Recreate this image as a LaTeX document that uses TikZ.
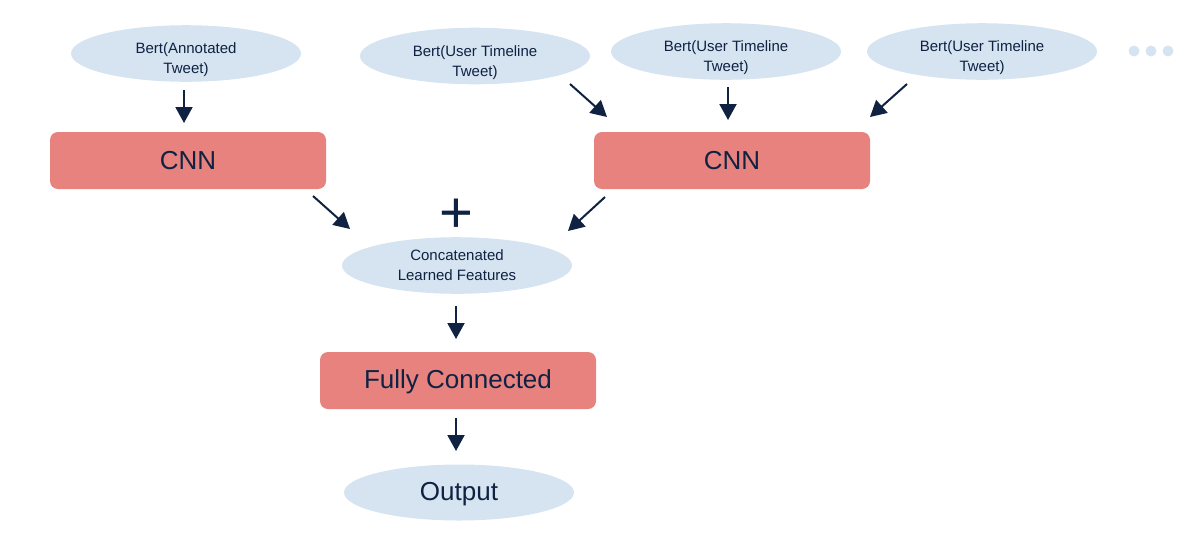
\documentclass[tikz,border=0pt]{standalone}
\usepackage{fontspec}
\setmainfont{Liberation Sans}
\usetikzlibrary{arrows.meta,calc,shapes.geometric}
\definecolor{ellfill}{HTML}{D5E4F0}
\definecolor{boxfill}{HTML}{E8827F}
\definecolor{ink}{HTML}{0F2242}
\newcommand\lowtxt[2]{\raisebox{-#1}[\height][\depth]{\begin{tabular}{@{}c@{}}#2\end{tabular}}}
\begin{document}
\begin{tikzpicture}[x=1pt,y=-1pt,
  ell/.style={ellipse, fill=ellfill, minimum width=230pt, minimum height=56pt, inner sep=0pt, align=center, text=ink, font=\fontsize{15}{20}\selectfont},
  bigell/.style={ell, font=\fontsize{26}{30}\selectfont},
  blk/.style={rectangle, rounded corners=8pt, fill=boxfill, minimum width=276pt, minimum height=57pt, inner sep=0pt, text=ink, font=\fontsize{26}{30}\selectfont},
  arr/.style={draw=ink, line width=2pt, -{Triangle[width=17pt,length=16pt]}},
  dot/.style={circle, fill=ellfill, minimum size=11pt, inner sep=0pt}
]
\useasboundingbox (0,0) rectangle (1190,542);
% inputs
\node[ell] (b1) at (186,53.5) {\lowtxt{6pt}{Bert(Annotated\\Tweet)}};
\node[ell] (b2) at (475,56) {\lowtxt{6pt}{Bert(User Timeline\\Tweet)}};
\node[ell] (b3) at (726,51.5) {\lowtxt{6pt}{Bert(User Timeline\\Tweet)}};
\node[ell] (b4) at (982,51.5) {\lowtxt{6pt}{Bert(User Timeline\\Tweet)}};
\node[dot] (d1) at (1134,51) {};
\node[dot] (d2) at (1151,51) {};
\node[dot] (d3) at (1168,51) {};
% CNNs
\node[blk] (cnn1) at (188,160.5) {\lowtxt{2.5pt}{CNN}};
\node[blk] (cnn2) at (732,160.5) {\lowtxt{2.5pt}{CNN}};
% plus
\node[font=\fontsize{58}{58}\selectfont, text=ink, inner sep=0pt] (plus) at (456,216) {+};
% concat
\node[ell] (cat) at (457,265.5) {\lowtxt{1pt}{Concatenated\\Learned Features}};
\node[blk] (fc) at (458,380.5) {\lowtxt{1.5pt}{Fully Connected}};
\node[bigell] (out) at (459,492.5) {\lowtxt{2pt}{Output}};
% arrow endpoints
\coordinate (a1s) at (184,90);  \coordinate (a1e) at (184,123);
\coordinate (a2s) at (570,84);  \coordinate (a2e) at (607,117);
\coordinate (a3s) at (728,87);  \coordinate (a3e) at (728,120);
\coordinate (a4s) at (907,84);  \coordinate (a4e) at (870,117);
\coordinate (a5s) at (313,196); \coordinate (a5e) at (350,229);
\coordinate (a6s) at (605,197); \coordinate (a6e) at (568,231);
\coordinate (a7s) at (456,306); \coordinate (a7e) at (456,339);
\coordinate (a8s) at (456,418); \coordinate (a8e) at (456,451);
\draw[arr] (a1s) -- (a1e);
\draw[arr] (a2s) -- (a2e);
\draw[arr] (a3s) -- (a3e);
\draw[arr] (a4s) -- (a4e);
\draw[arr] (a5s) -- (a5e);
\draw[arr] (a6s) -- (a6e);
\draw[arr] (a7s) -- (a7e);
\draw[arr] (a8s) -- (a8e);
\end{tikzpicture}
\end{document}
